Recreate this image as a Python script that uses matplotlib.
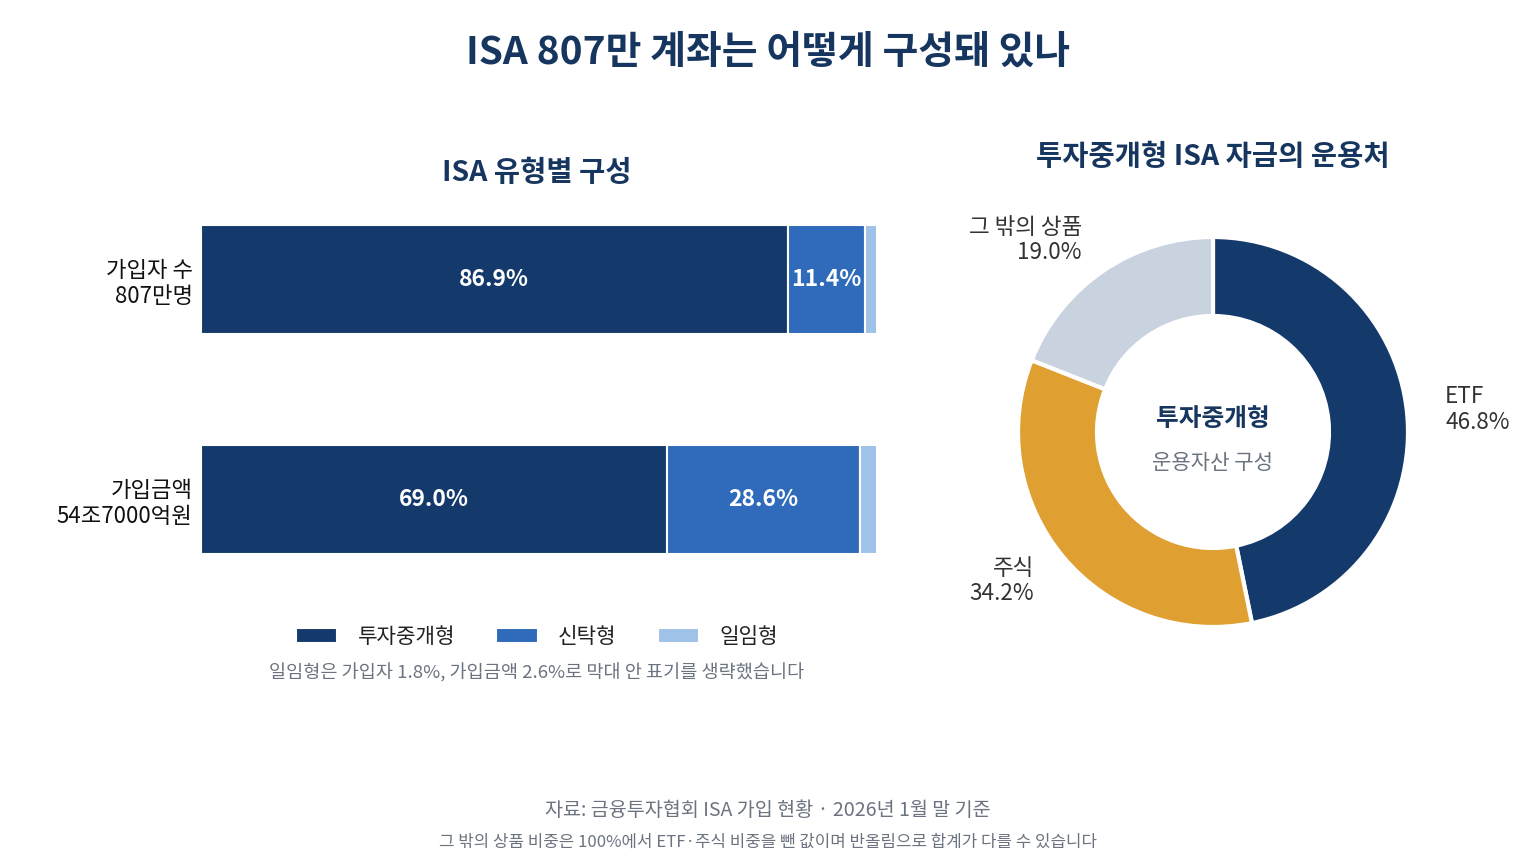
import numpy as np
import matplotlib.pyplot as plt

plt.rcParams['font.family'] = ['Noto Sans CJK KR', 'DejaVu Sans']

# 데이터
bar_rows = ['가입자 수\n807만명', '가입금액\n54조7000억원']
bar_series = ['투자중개형', '신탁형', '일임형']
bar_vals = {
    '투자중개형': [86.9, 69.0],
    '신탁형': [11.4, 28.6],
    '일임형': [1.8, 2.6],
}
bar_show_label = {'투자중개형': True, '신탁형': True, '일임형': False}

donut_names = ['ETF', '주식', '그 밖의 상품']
donut_vals = [46.8, 34.2, 19.0]

NAVY = '#143a6b'
BLUE = '#2f6bba'
LIGHT = '#9fc2e8'
ORANGE = '#dfa031'
GREYBLUE = '#c9d3e0'
TITLE = '#16365f'
GREY = '#6b7380'
DARK = '#333333'

W, H = 1536, 864
fig = plt.figure(figsize=(W / 100, H / 100), dpi=100)
fig.patch.set_facecolor('white')


def px_axes(x0, y0, x1, y1):
    # 픽셀 좌표(좌상단 기준)로 axes 생성
    return fig.add_axes([x0 / W, 1 - y1 / H, (x1 - x0) / W, (y1 - y0) / H])


fig.text(768 / W, 1 - 52 / H, 'ISA 807만 계좌는 어떻게 구성돼 있나',
         ha='center', va='center', fontsize=28, fontweight='bold', color=TITLE)

# 막대 그래프
ax = px_axes(201, 190, 876, 590)
colors = {'투자중개형': NAVY, '신탁형': BLUE, '일임형': LIGHT}
ypos = np.arange(len(bar_rows))
left = np.zeros(len(bar_rows))
for s in bar_series:
    vals = np.array(bar_vals[s])
    ax.barh(ypos, vals, left=left, height=0.492, color=colors[s],
            edgecolor='white', linewidth=1.5, label=s)
    if bar_show_label[s]:
        for y, l, v in zip(ypos, left, vals):
            ax.text(l + v / 2, y, f'{v:.1f}%', ha='center', va='center',
                    color='white', fontsize=16.5, fontweight='bold')
    left += vals
ax.set_xlim(0, 100)
ax.set_ylim(1.411, -0.407)
ax.set_yticks(ypos)
ax.set_yticklabels(bar_rows, fontsize=16, color='#111111', linespacing=1.15)
ax.tick_params(axis='y', length=0, pad=6)
ax.set_xticks([])
for sp in ax.spines.values():
    sp.set_visible(False)

fig.text(537 / W, 1 - 173 / H, 'ISA 유형별 구성', ha='center', va='center',
         fontsize=20.5, fontweight='bold', color=TITLE)

leg = fig.legend(*ax.get_legend_handles_labels(), loc='center',
                 bbox_to_anchor=(537 / W, 1 - 637 / H), ncol=3, frameon=False,
                 fontsize=15.3, handlelength=1.95, handleheight=0.65,
                 handletextpad=0.95, columnspacing=1.95)
for t in leg.get_texts():
    t.set_color('#222222')

fig.text(537 / W, 1 - 673 / H,
         '일임형은 가입자 1.8%, 가입금액 2.6%로 막대 안 표기를 생략했습니다',
         ha='center', va='center', fontsize=13.4, color=GREY)

# 도넛 차트
R = 195
dx = px_axes(1213 - 250, 432 - 250, 1213 + 250, 432 + 250)
dx.pie(donut_vals, colors=[NAVY, ORANGE, GREYBLUE], startangle=90,
       counterclock=False, radius=1,
       wedgeprops=dict(width=79 / R, edgecolor='white', linewidth=3))
dx.set_xlim(-250 / R, 250 / R)
dx.set_ylim(-250 / R, 250 / R)
dx.set_aspect('equal')
dx.axis('off')

label_pos = [(1.19, 0.116, 'left'), (-0.918, -0.764, 'right'), (-0.672, 0.985, 'right')]
for name, v, (lx, ly, ha) in zip(donut_names, donut_vals, label_pos):
    dx.text(lx, ly, f'{name}\n{v:.1f}%', ha=ha, va='center', fontsize=16.2,
            color=DARK, linespacing=1.15)

dx.text(0, 0.067, '투자중개형', ha='center', va='center', fontsize=17.8,
        fontweight='bold', color=TITLE)
dx.text(0, -0.159, '운용자산 구성', ha='center', va='center', fontsize=15.2,
        color=GREY)

fig.text(1213 / W, 1 - 157 / H, '투자중개형 ISA 자금의 운용처', ha='center',
         va='center', fontsize=20.5, fontweight='bold', color=TITLE)

# 출처
fig.text(768 / W, 1 - 810 / H,
         '자료: 금융투자협회 ISA 가입 현황 · 2026년 1월 말 기준',
         ha='center', va='center', fontsize=14.1, color=GREY)
fig.text(768 / W, 1 - 842 / H,
         '그 밖의 상품 비중은 100%에서 ETF·주식 비중을 뺀 값이며 반올림으로 합계가 다를 수 있습니다',
         ha='center', va='center', fontsize=12.1, color=GREY)

fig.savefig('out.png', dpi=100, facecolor='white')
